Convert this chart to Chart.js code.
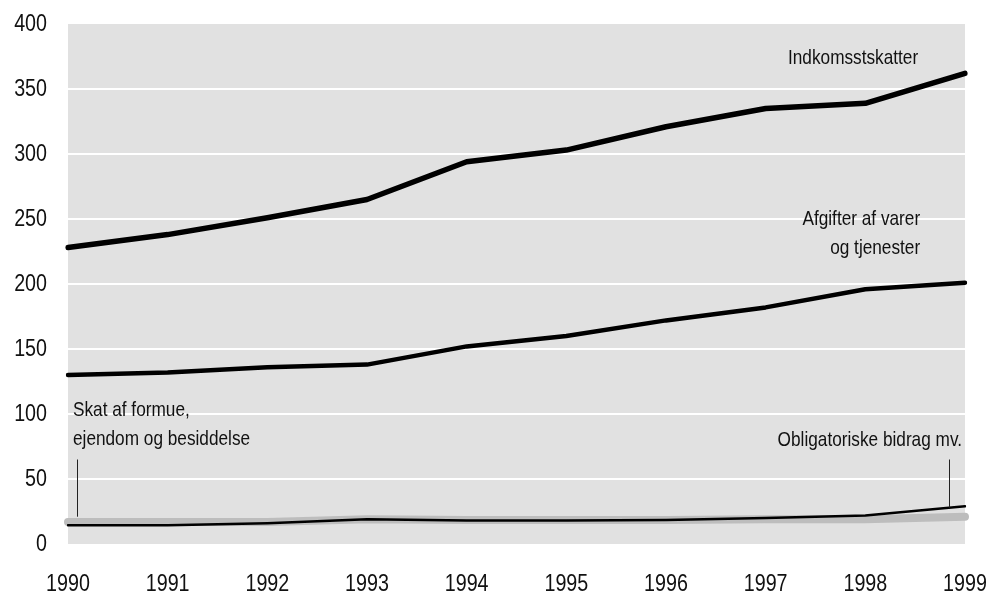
<!DOCTYPE html>
<html lang="da">
<head>
  <meta charset="UTF-8">
  <title>Skatter og afgifter 1990-1999</title>
  <script src="https://cdn.jsdelivr.net/npm/chart.js"></script>
  <style>
    body { margin: 0; background: #fff; }
    #wrap { width: 1002px; height: 596px; }
  </style>
</head>
<body>
  <div id="wrap"><canvas id="chartCanvas" width="1002" height="596"></canvas></div>

  <script>
    const years = ["1990", "1991", "1992", "1993", "1994", "1995", "1996", "1997", "1998", "1999"];
    const indkomstskatter = [228, 238, 251, 265, 294, 303, 321, 335, 339, 362];
    const afgifter = [130, 132, 136, 138, 152, 160, 172, 182, 196, 201];
    const obligatoriske = [14.5, 14.5, 16, 19, 18, 18, 18.5, 20, 22, 29];
    const skatFormue = [17, 17, 17, 19, 18.5, 18.5, 18.5, 19, 19, 21];

    const FONT = '"Liberation Sans", Arial, sans-serif';
    const NARROW = 0.82; // squeeze text horizontally, like Arial Narrow

    // annotations: text placed in data coordinates (x = category index, y = value)
    const notes = [
      { lines: ["Indkomsstskatter"], x: 8.53, y: 374, align: "right" },
      { lines: ["Afgifter af varer", "og tjenester"], x: 8.55, y: 250, align: "right" },
      { lines: ["Skat af formue,", "ejendom og besiddelse"], x: 0.05, y: 103, align: "left" },
      { lines: ["Obligatoriske bidrag mv."], x: 8.97, y: 80, align: "right" }
    ];
    const pointers = [
      { x: 0.09, from: 65, to: 21 },
      { x: 8.84, from: 65, to: 28 }
    ];

    function narrowText(ctx, text, x, y, align) {
      ctx.save();
      ctx.translate(x, y);
      ctx.scale(NARROW, 1);
      ctx.textAlign = align;
      ctx.fillText(text, 0, 0);
      ctx.restore();
    }

    const plotBg = {
      id: "plotBg",
      beforeDraw(chart) {
        const { ctx, chartArea: a } = chart;
        ctx.save();
        ctx.fillStyle = "#e1e1e1";
        ctx.fillRect(a.left, a.top, a.right - a.left, a.bottom - a.top);
        ctx.restore();
      }
    };

    const labels = {
      id: "labels",
      afterDatasetsDraw(chart) {
        const { ctx, scales: { x, y } } = chart;
        ctx.save();
        ctx.fillStyle = "#111";
        ctx.textBaseline = "middle";

        // axis tick labels
        ctx.font = "24px " + FONT;
        y.ticks.forEach((t, i) => narrowText(ctx, String(t.value), 47, y.getPixelForTick(i), "right"));
        x.ticks.forEach((t, i) => narrowText(ctx, years[t.value], x.getPixelForTick(i), 584, "center"));

        // series labels
        ctx.font = "21px " + FONT;
        notes.forEach(n => {
          n.lines.forEach((t, i) => {
            narrowText(ctx, t, x.getPixelForValue(n.x), y.getPixelForValue(n.y) + i * 29, n.align);
          });
        });

        ctx.strokeStyle = "#222";
        ctx.lineWidth = 1;
        pointers.forEach(p => {
          const px = Math.round(x.getPixelForValue(p.x)) + 0.5;
          ctx.beginPath();
          ctx.moveTo(px, y.getPixelForValue(p.from));
          ctx.lineTo(px, y.getPixelForValue(p.to));
          ctx.stroke();
        });
        ctx.restore();
      }
    };

    const ctx = document.getElementById("chartCanvas").getContext("2d");
    new Chart(ctx, {
      type: "line",
      data: {
        labels: years,
        datasets: [
          { label: "Indkomsstskatter", data: indkomstskatter, borderColor: "#000", borderWidth: 5.5, order: 1 },
          { label: "Afgifter af varer og tjenester", data: afgifter, borderColor: "#000", borderWidth: 4.5, order: 2 },
          { label: "Obligatoriske bidrag mv.", data: obligatoriske, borderColor: "#000", borderWidth: 2.5, order: 3 },
          { label: "Skat af formue, ejendom og besiddelse", data: skatFormue, borderColor: "#bdbdbd", borderWidth: 8, order: 4 }
        ]
      },
      options: {
        responsive: false,
        animation: false,
        layout: { padding: { left: 0, right: 37, top: 24, bottom: 0 } },
        elements: {
          point: { radius: 0 },
          line: { tension: 0, borderCapStyle: "round", borderJoinStyle: "round" }
        },
        plugins: {
          legend: { display: false },
          tooltip: { enabled: false }
        },
        scales: {
          x: {
            offset: false,
            grid: { display: false },
            border: { display: false },
            ticks: { display: false },
            afterFit(s) { s.height = 52; }
          },
          y: {
            min: 0,
            max: 400,
            grid: {
              color: c => (c.tick.value === 0 || c.tick.value === 400) ? "rgba(0,0,0,0)" : "#ffffff",
              lineWidth: 2,
              drawTicks: false
            },
            border: { display: false },
            ticks: { display: false, stepSize: 50 },
            afterFit(s) { s.width = 68; }
          }
        }
      },
      plugins: [plotBg, labels]
    });
  </script>
</body>
</html>
